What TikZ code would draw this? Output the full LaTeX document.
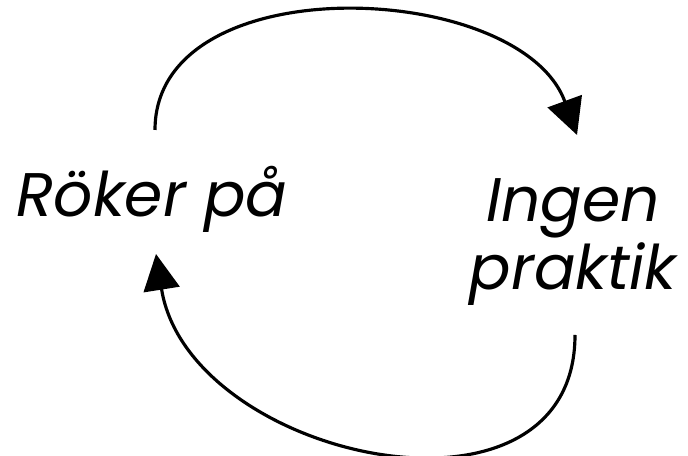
\documentclass[tikz,border=0pt]{standalone}
\usepackage{fontspec}
\setmainfont{Poppins}
\usetikzlibrary{arrows.meta,positioning}

\begin{document}
\begin{tikzpicture}[x=0.01cm,y=-0.01cm]
  \tikzset{loop arrow/.style={draw,line width=0.9pt,-{Triangle[length=0.36cm,width=0.36cm]}},
           word/.style={font=\fontsize{17.5}{19.4}\selectfont\itshape,align=center,anchor=base,inner sep=0pt}}
  \useasboundingbox (0,0) rectangle (688,456);

  \node (roker) [word] at (152,217) {Röker på};
  \node (praktik) [word] at (573,290) {Ingen\\praktik};

  \coordinate (top start) at (155,130);
  \coordinate (top end) at (577,135);
  \coordinate (bot start) at (575,335);
  \coordinate (bot end) at (156,254);

  \draw [loop arrow] (top start) to[out=90,in=110] (top end);
  \draw [loop arrow] (bot start) to[out=-90,in=-81,looseness=1.25] (bot end);
\end{tikzpicture}
\end{document}
